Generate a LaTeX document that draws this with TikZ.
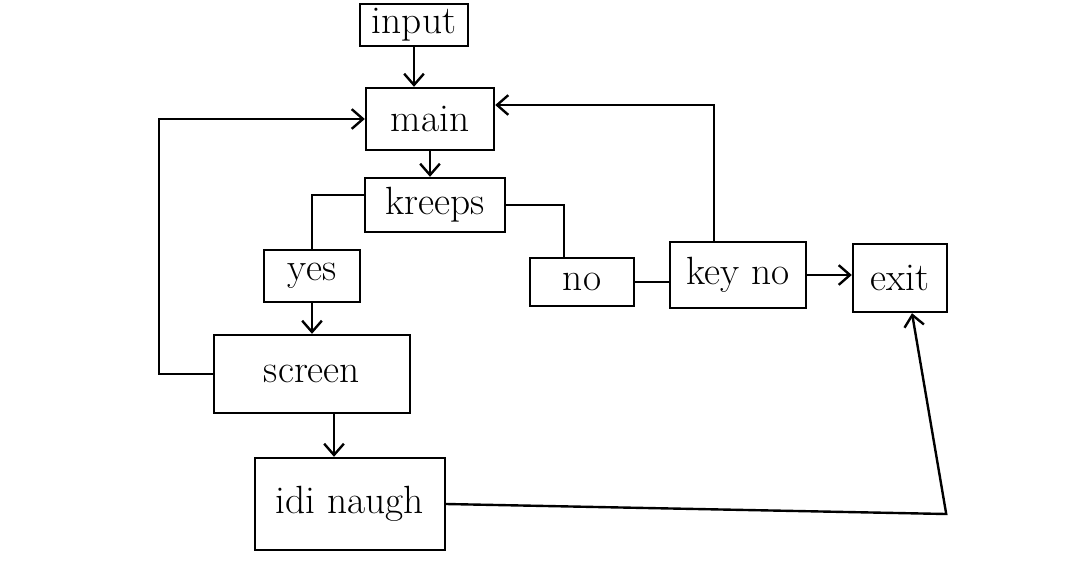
\documentclass[tikz,border=0pt]{standalone}
\usetikzlibrary{arrows.meta}
\begin{document}
\begin{tikzpicture}[x=0.025cm, y=-0.025cm, line width=1.7pt,
    >={Straight Barb[length=8pt,width=14pt]},
    box/.style={draw, inner sep=0pt, font=\fontsize{28}{30}\selectfont}]
      \useasboundingbox (0, 0) rectangle (1071, 567);
      \node[box, minimum width=2.7cm, minimum height=1.05cm] (input) at (414, 25) {input};
      \node[box, minimum width=3.2cm, minimum height=1.55cm] (main) at (430, 119) {main};
      \node[box, minimum width=3.5cm, minimum height=1.35cm] (kreeps) at (435, 205) {kreeps};
      \node[box, minimum width=2.4cm, minimum height=1.3cm] (yes) at (312, 276) {yes};
      \node[box, minimum width=2.6cm, minimum height=1.2cm] (no) at (582, 282) {no};
      \node[box, minimum width=3.4cm, minimum height=1.65cm] (keyno) at (738, 275) {key no};
      \node[box, minimum width=2.35cm, minimum height=1.7cm] (exit) at (900, 278) {exit};
      \node[box, minimum width=4.9cm, minimum height=1.95cm] (screen) at (312, 374) {screen};
      \node[box, minimum width=4.75cm, minimum height=2.3cm] (idi) at (350, 504) {idi naugh};
      \draw[->] (input.south) -- (input.south |- main.north);
      \draw[->] (main.south) -- (main.south |- kreeps.north);
      \draw ([yshift=0.25cm]kreeps.west) -| (yes.north);
      \draw (kreeps.east) -| ([xshift=-0.45cm]no.north);
      \draw[->] (yes.south) -- (screen.north);
      \draw[->] ([xshift=0.55cm]screen.south) -- ([xshift=0.55cm]screen.south |- idi.north);
      \draw[->] (screen.west) -- ++(-54, 0) |- (main.west);
      \draw (no.east) -- (no.east -| keyno.west);
      \draw[->] ([xshift=-0.6cm]keyno.north) |- ([yshift=0.35cm]main.east);
      \draw[->] (keyno.east) -- (keyno.east -| exit.west);
      \draw[->] (idi.east) -- ++(500, 10) -- ([xshift=0.3cm]exit.south);
    \end{tikzpicture}
\end{document}
